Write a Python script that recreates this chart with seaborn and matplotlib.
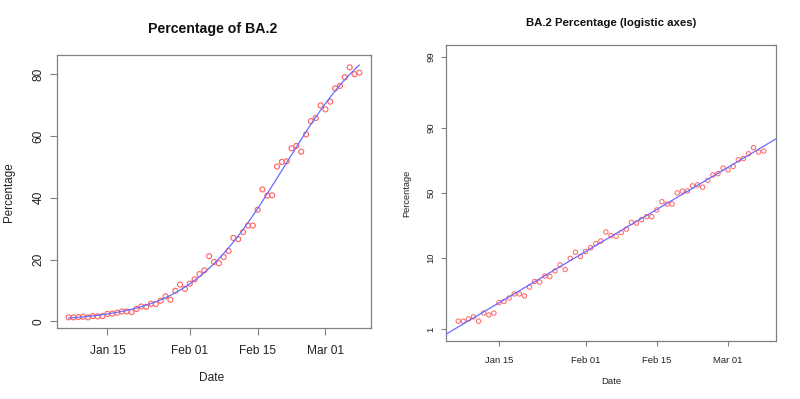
import numpy as np
import pandas as pd
import matplotlib
matplotlib.use("Agg")
import matplotlib.pyplot as plt
import seaborn as sns

# ---- data ----
start_date = "2022-01-07"
pct_ba2 = [1.3, 1.3, 1.4, 1.5, 1.3, 1.7, 1.6, 1.7, 2.4, 2.5,
           2.8, 3.2, 3.2, 3.0, 4.0, 4.8, 4.7, 5.7, 5.6, 6.7,
           8.1, 7.0, 9.9, 11.9, 10.5, 12.2, 13.6, 15.3, 16.5, 21.1,
           19.2, 18.8, 20.8, 22.8, 27.0, 26.6, 28.9, 31.0, 31.0, 36.1,
           42.7, 40.7, 40.8, 50.1, 51.6, 51.8, 56.0, 56.8, 54.9, 60.5,
           64.8, 65.8, 69.9, 68.6, 71.1, 75.4, 76.2, 79.0, 82.2, 80.0,
           80.5]
# logistic fit (logit scale): intercept at Jan 15, slope per day
fit_ref_date = "2022-01-15"
fit_intercept = -3.71
fit_slope = 0.1018

x_ticks = ["2022-01-15", "2022-02-01", "2022-02-15", "2022-03-01"]
x_tick_labels = ["Jan 15", "Feb 01", "Feb 15", "Mar 01"]
y_ticks_left = [0, 20, 40, 60, 80]
y_ticks_right = [1, 10, 50, 90, 99]

# ---- build frames ----
dates = pd.date_range(start_date, periods=len(pct_ba2), freq="D")
df = pd.DataFrame({"Date": dates, "Percentage": pct_ba2})
df["frac"] = df["Percentage"] / 100.0

pad = pd.Timedelta(days=(dates[-1] - dates[0]).days * 0.04)
xlim = (dates[0] - pad, dates[-1] + pad)

def fit_frac(d):
    days = (d - pd.Timestamp(fit_ref_date)) / pd.Timedelta(days=1)
    return 1.0 / (1.0 + np.exp(-(fit_intercept + fit_slope * np.asarray(days))))

fine = pd.date_range(dates[0], dates[-1], freq="3h")
fit_left = pd.DataFrame({"Date": fine, "Percentage": 100 * fit_frac(fine)})
wide = pd.date_range(xlim[0], xlim[1], freq="6h")
fit_right = pd.DataFrame({"Date": wide, "frac": fit_frac(wide)})

sns.set_style("ticks")
plt.rcParams["font.family"] = ["Liberation Sans", "DejaVu Sans"]

fig = plt.figure(figsize=(8.0, 3.99), dpi=100)
W, H = 800, 399

def axes_px(l, r, t, b):
    return fig.add_axes([l / W, 1 - b / H, (r - l) / W, (b - t) / H])

text_c = "#222222"
frame_c = "#808080"
pt_c = "#ff6060"
ln_c = "#6a6aff"

# ---------- left panel ----------
ax1 = axes_px(57, 371, 55, 328)
sns.lineplot(data=fit_left, x="Date", y="Percentage", ax=ax1,
             color=ln_c, lw=0.9, zorder=3)
sns.scatterplot(data=df, x="Date", y="Percentage", ax=ax1,
                marker="o", s=13, facecolor="none", edgecolor=pt_c,
                linewidth=0.8, zorder=2)
ax1.set_xlim(xlim)
ax1.set_ylim(-2.15, 86.2)
ax1.set_xticks(pd.to_datetime(x_ticks))
ax1.set_xticklabels(x_tick_labels)
ax1.set_yticks(y_ticks_left)
ax1.set_yticklabels([str(v) for v in y_ticks_left], rotation=90, va="center")
ax1.tick_params(axis="both", length=5, width=0.8, color=frame_c,
                labelsize=8.6, labelcolor=text_c, direction="out",
                bottom=True, left=True, top=False, right=False)
ax1.tick_params(axis="x", pad=7)
ax1.tick_params(axis="y", pad=4)
ax1.set_xlabel("")
ax1.set_ylabel("")
for s in ax1.spines.values():
    s.set_visible(True)
    s.set_color(frame_c)
    s.set_linewidth(0.9)

fig.text(213 / W, 1 - 29 / H, "Percentage of BA.2", ha="center", va="center",
         fontsize=10.2, fontweight="bold", color="#111111")
fig.text(212 / W, 1 - 378 / H, "Date", ha="center", va="center",
         fontsize=8.6, color=text_c)
fig.text(9 / W, 1 - 192 / H, "Percentage", ha="center", va="center",
         rotation=90, fontsize=8.4, color=text_c)

# ---------- right panel ----------
ax2 = axes_px(446, 776, 45, 341)
ax2.set_yscale("logit")
sns.lineplot(data=fit_right, x="Date", y="frac", ax=ax2,
             color=ln_c, lw=0.9, zorder=3)
sns.scatterplot(data=df, x="Date", y="frac", ax=ax2,
                marker="o", s=10, facecolor="none", edgecolor=pt_c,
                linewidth=0.7, zorder=2)
ax2.set_xlim(xlim)
ax2.set_ylim(1 / (1 + np.exp(5.0)), 1 / (1 + np.exp(-5.0)))
ax2.set_xticks(pd.to_datetime(x_ticks))
ax2.set_xticklabels(x_tick_labels)
ax2.set_yticks([v / 100 for v in y_ticks_right])
ax2.set_yticklabels([str(v) for v in y_ticks_right], rotation=90, va="center")
ax2.yaxis.set_minor_locator(matplotlib.ticker.NullLocator())
ax2.tick_params(axis="both", length=3.5, width=0.8, color=frame_c,
                labelsize=6.8, labelcolor=text_c, direction="out",
                bottom=True, left=True, top=False, right=False)
ax2.tick_params(axis="x", pad=7)
ax2.tick_params(axis="y", pad=4)
ax2.set_xlabel("")
ax2.set_ylabel("")
for s in ax2.spines.values():
    s.set_visible(True)
    s.set_color(frame_c)
    s.set_linewidth(0.9)

fig.text(611 / W, 1 - 23 / H, "BA.2 Percentage (logistic axes)", ha="center",
         va="center", fontsize=8.2, fontweight="bold", color="#111111")
fig.text(611 / W, 1 - 382 / H, "Date", ha="center", va="center",
         fontsize=6.8, color=text_c)
fig.text(407 / W, 1 - 193 / H, "Percentage", ha="center", va="center",
         rotation=90, fontsize=6.7, color=text_c)

fig.savefig("out.png", dpi=100, facecolor="white")
